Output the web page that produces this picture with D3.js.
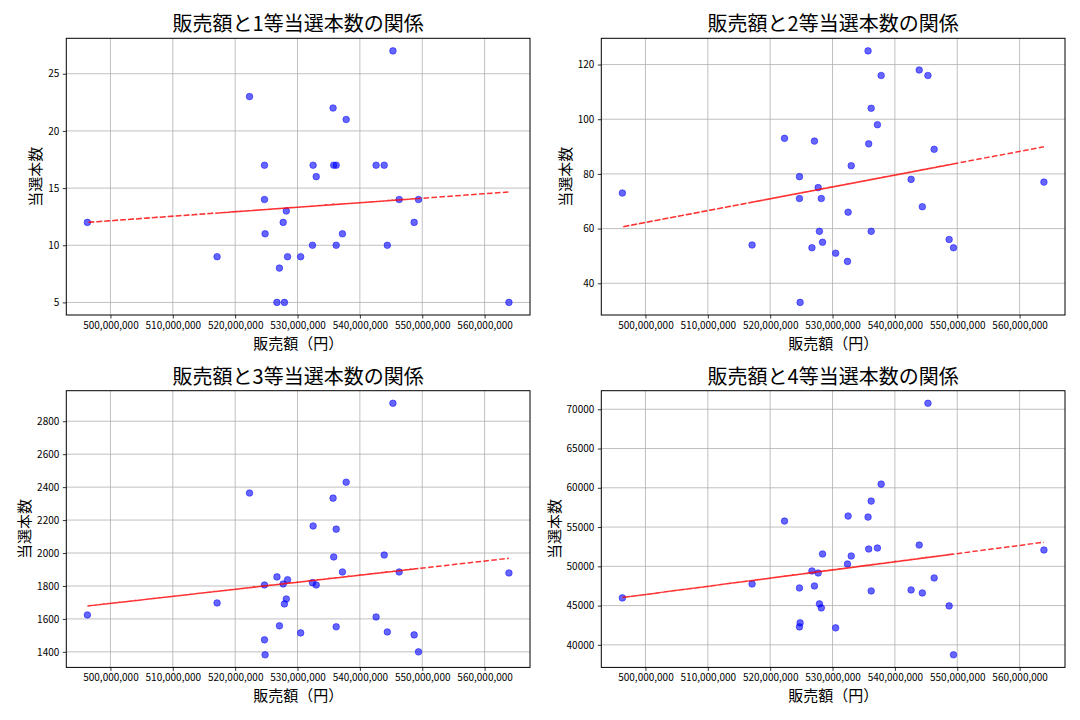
<!DOCTYPE html>
<html>
<head>
<meta charset="utf-8">
<script src="https://cdn.jsdelivr.net/npm/d3@7"></script>
<style>
  html, body { margin: 0; padding: 0; background: #fff; }
  svg { display: block; }
  text { font-family: "Noto Sans CJK JP", "Noto Sans", sans-serif; }
</style>
</head>
<body>
<svg id="chart" width="1080" height="720"></svg>
<script>
// ---- data ----
const sales = [526700000, 543900000, 517100000, 535700000, 524700000, 548700000, 528400000, 537800000,
  527100000, 542600000, 524800000, 549400000, 532400000, 496300000, 533000000, 544400000,
  522300000, 536200000, 527900000, 545300000, 524700000, 537200000, 528200000, 546300000,
  527700000, 536200000, 530500000, 535800000, 532500000, 563900000];
const prize1 = [5, 17, 9, 22, 14, 12, 9, 21, 8, 17, 11, 14, 10, 12, 16, 10, 23, 10, 5, 27, 17, 11, 13, 14, 12, 17, 9, 17, 17, 5];
const prize2 = [53, 118, 54, 125, 71, 56, 55, 116, 92, 78, 33, 53, 48, 73, 83, 68, 93, 59, 59, 116, 79, 98, 71, 89, 75, 104, 51, 91, 66, 77];
const prize3 = [1855, 1988, 1697, 2333, 1473, 1503, 1838, 2430, 1558, 1612, 1382, 1400, 1820, 1624, 1806, 1521,
  2364, 1552, 1691, 2909, 1806, 1885, 1721, 1885, 1812, 2145, 1515, 1976, 2164, 1879];
const prize4 = [49407, 52712, 47754, 56271, 42288, 44958, 51568, 60466, 47500, 46992, 42797, 38729, 50297, 45975,
  51314, 46610, 55763, 46864, 45212, 70763, 47246, 52331, 44703, 48517, 49153, 58305, 42161, 52203, 56398, 52076];
const titles = ["販売額と1等当選本数の関係", "販売額と2等当選本数の関係", "販売額と3等当選本数の関係", "販売額と4等当選本数の関係"];
const xLabel = "販売額（円）";
const yLabel = "当選本数";
const xTicks = [500000000, 510000000, 520000000, 530000000, 540000000, 550000000, 560000000];
const yTicks1 = [5, 10, 15, 20, 25];
const yTicks2 = [40, 60, 80, 100, 120];
const yTicks3 = [1400, 1600, 1800, 2000, 2200, 2400, 2600, 2800];
const yTicks4 = [40000, 45000, 50000, 55000, 60000, 65000, 70000];

const series = [prize1, prize2, prize3, prize4];
const yTicksAll = [yTicks1, yTicks2, yTicks3, yTicks4];

// ---- layout ----
const svg = d3.select("#chart");
const lefts = [66.3, 601.3], tops = [38.3, 390.7];
const W = 463.7, H = 276.7;

function padExtent(arr) {
  const [a, b] = d3.extent(arr);
  const m = (b - a) * 0.05;
  return [a - m, b + m];
}

series.forEach((vals, i) => {
  const col = i % 2, row = Math.floor(i / 2);
  const g = svg.append("g").attr("transform", `translate(${lefts[col]},${tops[row]})`);
  const x = d3.scaleLinear().domain(padExtent(sales)).range([0, W]);
  const y = d3.scaleLinear().domain(padExtent(vals)).range([H, 0]);

  // grid
  g.append("g").selectAll("line").data(xTicks).join("line")
    .attr("x1", d => x(d)).attr("x2", d => x(d)).attr("y1", 0).attr("y2", H)
    .attr("stroke", "#b0b0b0").attr("stroke-width", 0.8);
  g.append("g").selectAll("line").data(yTicksAll[i]).join("line")
    .attr("x1", 0).attr("x2", W).attr("y1", d => y(d)).attr("y2", d => y(d))
    .attr("stroke", "#b0b0b0").attr("stroke-width", 0.8);

  // regression line (least squares), drawn through points in data order
  const mx = d3.mean(sales), my = d3.mean(vals);
  let sxy = 0, sxx = 0;
  sales.forEach((s, k) => { sxy += (s - mx) * (vals[k] - my); sxx += (s - mx) * (s - mx); });
  const slope = sxy / sxx, icpt = my - slope * mx;
  const line = d3.line().x(d => x(d)).y(d => y(slope * d + icpt));

  // scatter
  g.append("g").selectAll("circle").data(sales.map((s, k) => [s, vals[k]])).join("circle")
    .attr("cx", d => x(d[0])).attr("cy", d => y(d[1])).attr("r", 3.3)
    .attr("fill", "#0000ff").attr("fill-opacity", 0.6)
    .attr("stroke", "#0000ff").attr("stroke-opacity", 0.6).attr("stroke-width", 0.8);

  g.append("path").attr("d", line(sales))
    .attr("fill", "none").attr("stroke", "#ff0000").attr("stroke-opacity", 0.8)
    .attr("stroke-width", 1.5).attr("stroke-dasharray", "5.55,2.4");

  // axes
  const xa = g.append("g").attr("transform", `translate(0,${H})`)
    .call(d3.axisBottom(x).tickValues(xTicks).tickFormat(d3.format(",")).tickSizeOuter(0).tickSize(3.5).tickPadding(3.5));
  const ya = g.append("g")
    .call(d3.axisLeft(y).tickValues(yTicksAll[i]).tickFormat(d3.format("d")).tickSizeOuter(0).tickSize(3.5).tickPadding(3.5));
  [xa, ya].forEach(a => {
    a.select(".domain").remove();
    a.selectAll("text").attr("font-size", 10).attr("fill", "#000")
      .attr("font-family", '"Noto Sans CJK JP", "Noto Sans", sans-serif');
    a.selectAll("line").attr("stroke", "#000").attr("stroke-width", 0.8);
  });

  // frame
  g.append("rect").attr("x", 0).attr("y", 0).attr("width", W).attr("height", H)
    .attr("fill", "none").attr("stroke", "#000").attr("stroke-width", 1);

  // title
  g.append("text").attr("x", W / 2).attr("y", -7).attr("text-anchor", "middle")
    .attr("font-size", 20).attr("fill", "#000").text(titles[i]);
  // x label
  g.append("text").attr("x", W / 2).attr("y", H + 34).attr("text-anchor", "middle")
    .attr("font-size", 15).attr("fill", "#000").text(xLabel);
  // y label positioned left of tick labels
  const bb = ya.node().getBBox();
  const lx = bb.x - 7;
  g.append("text").attr("transform", `translate(${lx},${H / 2}) rotate(-90)`)
    .attr("text-anchor", "middle").attr("font-size", 15).attr("fill", "#000").text(yLabel);
});
</script>
</body>
</html>
